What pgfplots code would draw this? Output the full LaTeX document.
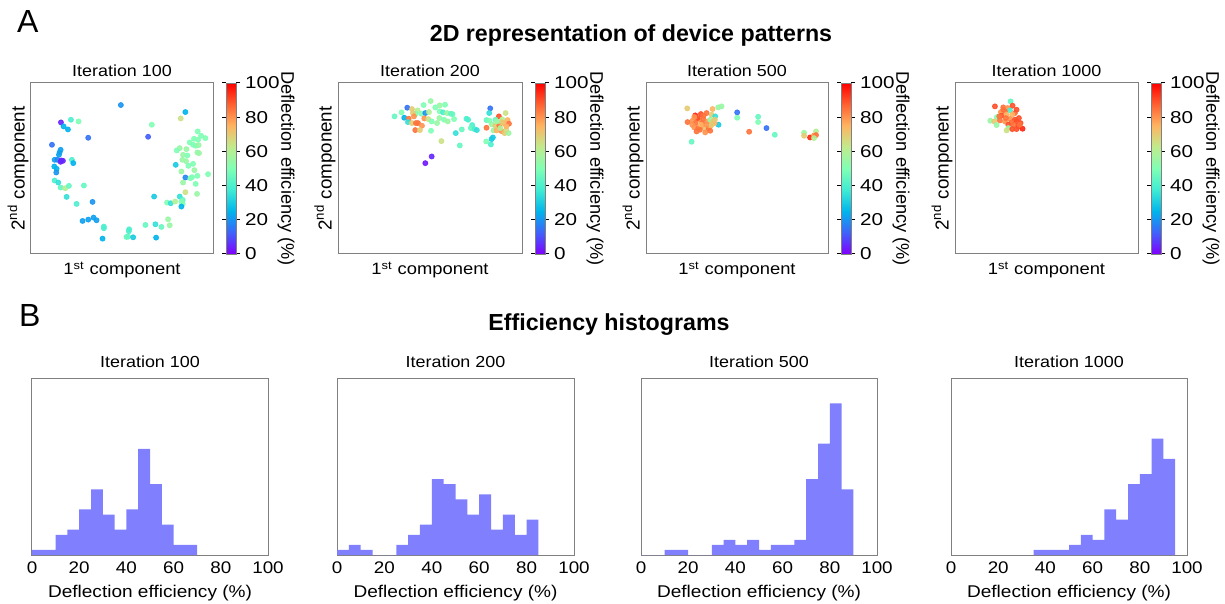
\documentclass[border=0pt]{standalone}
\usepackage{pgfplots}
\pgfplotsset{compat=1.18}
\usepackage{fontspec}
\setmainfont{Liberation Sans}
\newfontfamily\pf{Liberation Sans}[FakeStretch=1.12]
\newfontfamily\pfw{Liberation Sans}[FakeStretch=1.2]
\definecolor{framegray}{RGB}{128,128,128}
\definecolor{histblue}{RGB}{128,128,255}
\pgfplotsset{colormap={mplrainbow}{rgb=(0.5,0,1) rgb=(0.25,0.383,0.981) rgb=(0,0.707,0.924) rgb=(0.25,0.924,0.831) rgb=(0.5,1,0.707) rgb=(0.75,0.924,0.556) rgb=(1,0.707,0.383) rgb=(1,0.383,0.195) rgb=(1,0,0)}}
\pgfplotsset{/pgf/number format/assume math mode=true,
 scat/.style={scale only axis, height=85.5pt, anchor=north west,
  axis line style={draw=framegray, line width=0.5pt},
  xtick=\empty, ytick=\empty, ymin=-582, ymax=-70, clip=false,
  colormap name=mplrainbow, point meta min=0, point meta max=100,
  colorbar,
  colorbar style={at={(parent axis.north east)}, anchor=north west, xshift=-2pt,
    scale only axis, width=5pt, height=85.5pt, ytick={0,20,...,100},
    yticklabel pos=right, tick align=outside, major tick length=2pt,
    tick style={draw=black, line width=0.5pt},
    axis line style={draw=framegray, line width=0.4pt},
    yticklabel style={font=\pfw\fontsize{8.6}{10}\selectfont, xshift=-1pt},
    /pgf/number format/assume math mode=true},
  title style={at={(axis description cs:0.5,1.072)}, anchor=center, yshift=-6pt, font=\pf\fontsize{8}{10}\selectfont},
  xlabel={1\textsuperscript{st} component},
  xlabel style={at={(axis description cs:0.5,-0.094)}, anchor=center, font=\pf\fontsize{8.2}{10}\selectfont},
  ylabel={2\textsuperscript{nd} component},
  ylabel style={at={(axis description cs:-0.071,0.5)}, anchor=center, font=\fontsize{9.4}{11}\selectfont},
 },
 hist/.style={scale only axis, height=88.5pt, anchor=north west,
  xmin=0, xmax=100, ymin=0, ymax=35, xtick={0,20,...,100}, ytick=\empty,
  major tick length=0pt,
  axis line style={draw=framegray, line width=0.5pt},
  xticklabel style={font=\pf\fontsize{8.4}{10}\selectfont},
  xlabel={Deflection efficiency (\%)},
  xlabel style={at={(axis description cs:0.5,-0.215)}, anchor=center, font=\pf\fontsize{8.5}{10}\selectfont},
  title style={at={(axis description cs:0.5,1.09)}, anchor=center, yshift=-6pt, font=\pf\fontsize{8}{10}\selectfont},
 },
 sc/.style={scatter, only marks, mark=*, mark size=1.25pt, opacity=0.9,
  scatter/use mapped color={draw=mapped color, fill=mapped color}, point meta=explicit},
}
\newcommand{\cblabel}{Deflection efficiency (\%)}
\begin{document}
\begin{tikzpicture}
\path[use as bounding box] (0,0) rectangle (612.5pt,-302pt);
\node[anchor=base west, font=\fontsize{16}{18}\selectfont] at (5pt,-16.5pt) {A};
\node[anchor=base west, font=\fontsize{16}{18}\selectfont] at (6pt,-163pt) {B};
\node[anchor=base, font=\bfseries\fontsize{11.6}{13}\selectfont] at (315.5pt,-21pt) {2D representation of device patterns};
\node[anchor=base, font=\bfseries\fontsize{11.6}{13}\selectfont] at (304.5pt,-165pt) {Efficiency histograms};

% ---------- scatter 1 ----------
\begin{axis}[scat, name=s1, at={(15.5pt,-41.5pt)}, width=91pt, xmin=93, xmax=640, title={Iteration 100}]
\addplot[sc] table[meta=c] {
x y c
363 -136 20
557 -157 25
543 -176 65
183 -188 5
213 -180 40
236 -185 50
191 -200 25
204 -209 25
456 -195 50
265 -234 15
445 -231 12
156 -255 15
594 -215 50
604 -228 50
617 -235 50
583 -237 50
595 -240 50
570 -248 50
580 -255 50
588 -258 50
597 -256 55
560 -268 55
540 -265 55
531 -272 50
182 -270 22
179 -278 22
177 -285 22
164 -300 22
172 -300 18
184 -302 5
189 -303 5
182 -306 5
216 -300 40
220 -310 25
163 -320 25
170 -327 25
169 -338 20
550 -285 55
563 -287 50
548 -300 55
559 -304 55
580 -312 50
593 -278 55
598 -280 55
528 -315 30
566 -318 50
545 -335 55
584 -331 55
557 -353 18
572 -355 50
577 -352 50
593 -348 50
625 -343 50
550 -368 55
164 -362 40
175 -368 35
182 -383 45
196 -385 60
207 -378 45
252 -377 45
588 -372 50
557 -397 65
592 -402 55
463 -410 30
540 -410 35
549 -420 45
200 -411 35
278 -426 20
230 -432 40
502 -428 50
513 -430 35
526 -425 60
545 -425 50
549 -432 50
545 -440 25
505 -478 55
510 -496 55
437 -495 45
467 -493 35
485 -501 45
248 -483 22
265 -479 22
281 -473 22
290 -481 22
312 -500 40
312 -505 40
388 -508 40
387 -514 40
380 -531 45
385 -530 45
400 -532 30
469 -533 25
308 -536 25
};
\end{axis}
\node[rotate=-90, font=\fontsize{9.1}{11}\selectfont] at ([xshift=36.5pt]s1.east) {\cblabel};

% ---------- scatter 2 ----------
\begin{axis}[scat, name=s2, at={(169pt,-41.5pt)}, width=92pt, xmin=85, xmax=635, title={Iteration 200}]
\addplot[sc] table[meta=c] {
x y c
292 -144 15
254 -170 45
275 -158 50
306 -148 70
323 -152 60
341 -136 50
362 -124 55
376 -143 50
389 -137 55
405 -135 50
317 -162 50
309 -160 70
334 -162 50
346 -160 20
357 -157 60
283 -174 25
296 -177 85
312 -170 80
294 -187 35
306 -190 70
318 -190 85
324 -190 85
343 -176 80
355 -178 65
365 -185 50
389 -155 50
399 -158 40
411 -160 55
422 -162 45
427 -163 45
388 -175 55
402 -180 50
413 -185 55
432 -178 50
381 -190 55
336 -198 80
316 -211 85
330 -211 70
363 -213 50
394 -244 65
437 -220 35
455 -209 45
449 -257 45
469 -177 40
474 -180 40
486 -196 40
482 -205 45
493 -208 40
500 -211 35
540 -146 15
537 -160 35
566 -170 90
586 -160 65
529 -181 45
538 -183 50
556 -180 45
576 -179 60
592 -181 75
545 -194 55
556 -198 70
567 -197 85
580 -190 75
596 -192 85
529 -204 85
550 -212 55
559 -212 75
574 -214 80
583 -220 70
595 -220 55
548 -233 30
544 -238 30
528 -245 50
542 -254 40
574 -187 70
588 -210 65
365 -290 5
346 -310 3
560 -185 55
570 -205 60
588 -200 75
};
\end{axis}
\node[rotate=-90, font=\fontsize{9.1}{11}\selectfont] at ([xshift=36.5pt]s2.east) {\cblabel};

% ---------- scatter 3 ----------
\begin{axis}[scat, name=s3, at={(323pt,-41.5pt)}, width=91pt, xmin=93, xmax=640, title={Iteration 500}]
\addplot[sc] table[meta=c] {
x y c
217 -146 70
293 -148 75
310 -143 55
320 -140 55
367 -158 15
367 -174 50
430 -171 45
430 -187 50
455 -205 15
403 -216 85
480 -225 45
230 -246 45
241 -167 95
258 -163 90
275 -160 85
290 -165 70
301 -170 35
311 -195 30
218 -187 85
233 -183 80
242 -190 85
253 -180 80
265 -178 85
278 -185 80
286 -180 55
295 -185 70
299 -190 75
238 -203 80
250 -205 85
262 -200 80
272 -208 70
281 -205 85
287 -198 75
245 -215 85
271 -218 80
286 -213 85
248 -175 90
262 -190 85
275 -195 80
290 -195 70
232 -195 80
258 -195 75
568 -219 55
568 -228 70
586 -233 95
598 -227 80
604 -215 60
604 -226 85
598 -235 60
238 -172 80
266 -168 85
300 -180 70
255 -210 85
};
\end{axis}
\node[rotate=-90, font=\fontsize{9.1}{11}\selectfont] at ([xshift=36.5pt]s3.east) {\cblabel};

% ---------- scatter 4 ----------
\begin{axis}[scat, name=s4, at={(477.5pt,-41.5pt)}, width=91.5pt, xmin=90, xmax=640, title={Iteration 1000}]
\addplot[sc] table[meta=c] {
x y c
257 -125 45
210 -140 90
235 -143 85
248 -145 80
263 -138 90
255 -152 40
240 -155 85
228 -157 80
270 -160 85
262 -165 75
230 -168 90
245 -165 75
216 -172 50
255 -178 80
270 -180 90
282 -175 90
196 -183 55
208 -185 70
225 -182 85
240 -185 80
260 -188 85
275 -185 90
287 -190 90
215 -196 55
250 -195 90
265 -195 85
280 -200 90
250 -205 55
262 -208 90
275 -208 90
293 -207 95
245 -212 65
235 -150 85
275 -150 90
243 -175 85
285 -195 85
223 -170 85
};
\end{axis}
\node[rotate=-90, font=\fontsize{9.1}{11}\selectfont] at ([xshift=36.5pt]s4.east) {\cblabel};

% ---------- histograms ----------
\begin{axis}[hist, at={(16pt,-189pt)}, width=118pt, title={Iteration 100}]
\addplot[fill=histblue, draw=none, const plot] coordinates {(0,1)(5,1)(10,4)(15,5)(20,9)(25,13)(30,8)(35,5)(40,9)(45,21)(50,14)(55,6)(60,2)(65,2)(70,0)} \closedcycle;
\end{axis}
\begin{axis}[hist, at={(168.5pt,-189pt)}, width=118.5pt, title={Iteration 200}]
\addplot[fill=histblue, draw=none, const plot] coordinates {(0,1)(5,2)(10,1)(15,0)(20,0)(25,2)(30,4)(35,6)(40,15)(45,14)(50,11)(55,8)(60,12)(65,5)(70,8)(75,4)(80,7)(85,0)} \closedcycle;
\end{axis}
\begin{axis}[hist, at={(320.5pt,-189pt)}, width=118pt, title={Iteration 500}]
\addplot[fill=histblue, draw=none, const plot] coordinates {(0,0)(5,0)(10,1)(15,1)(20,0)(25,0)(30,2)(35,3)(40,2)(45,3)(50,1)(55,2)(60,2)(65,3)(70,15)(75,22)(80,30)(85,13)(90,0)} \closedcycle;
\end{axis}
\begin{axis}[hist, at={(475.5pt,-189pt)}, width=118pt, title={Iteration 1000}]
\addplot[fill=histblue, draw=none, const plot] coordinates {(35,1)(40,1)(45,1)(50,2)(55,4)(60,3)(65,9)(70,7)(75,14)(80,16)(85,23)(90,19)(95,0)} \closedcycle;
\end{axis}
\end{tikzpicture}
\end{document}
